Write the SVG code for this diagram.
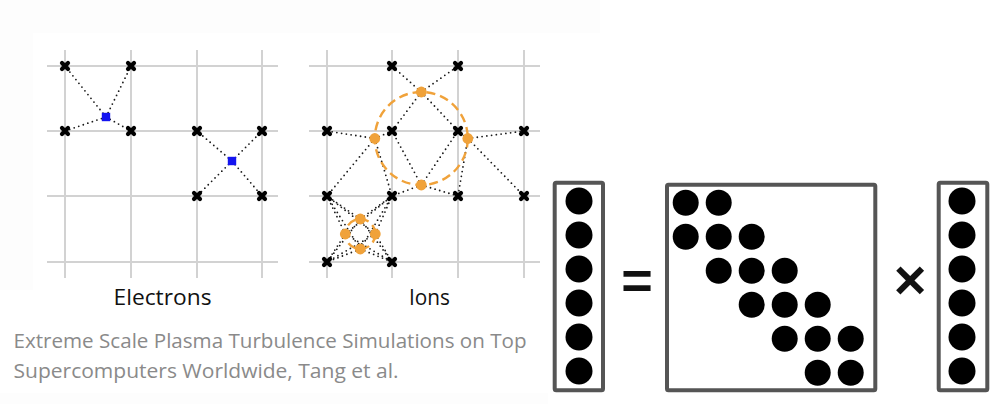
<svg xmlns="http://www.w3.org/2000/svg" width="999" height="404" viewBox="0 0 999 404">
  <style>
    .grid { stroke: #d2d2d2; stroke-width: 2; fill: none; }
    .dots { stroke: #1a1a1a; stroke-width: 1.8; stroke-dasharray: 0 4.8; stroke-linecap: round; fill: none; }
    .node { stroke: #000; stroke-width: 4.2; stroke-linecap: round; fill: none; }
    .elec { fill: #1414f0; }
    .ion { fill: #f0a23a; }
    .ring { fill: none; stroke: #f0a23a; stroke-width: 2.4; stroke-dasharray: 9 5; }
    .label { font-family: "Open Sans", "Liberation Sans", sans-serif; font-size: 22px; fill: #111; }
    .cite { font-family: "Open Sans", "Liberation Sans", sans-serif; font-size: 20px; fill: #8a8a8a; }
    .box { fill: #fff; stroke: #555; stroke-width: 4; }
    .dot { fill: #000; }
    .op { font-family: "Liberation Sans", "DejaVu Sans", sans-serif; font-weight: bold; fill: #111; }
  </style>
  <defs>
    <path id="x" class="node" d="M-3,-3 L3,3 M-3,3 L3,-3"/>
    <rect id="sq" class="elec" x="-4.2" y="-4.2" width="8.4" height="8.4"/>
    <circle id="io" class="ion" r="5.4"/>
  </defs>

  <!-- page background with a barely visible tint around the figure panel -->
  <rect width="999" height="404" fill="#ffffff"/>
  <path d="M0,0 H600 V33 H33 V290 H0 Z" fill="#fdfdfd"/>
  <rect x="0" y="393" width="548" height="11" fill="#fdfdfd"/>

  <!-- electron grid -->
  <g id="electron-grid" class="grid">
    <path d="M47,66 H278 M47,131 H278 M47,196 H278 M47,262 H278"/>
    <path d="M65,50 V278 M131,50 V278 M197,50 V278 M262,50 V278"/>
  </g>
  <!-- ion grid -->
  <g id="ion-grid" class="grid">
    <path d="M309,66 H540 M309,131 H540 M309,196 H540 M309,262 H540"/>
    <path d="M327,50 V278 M392,50 V278 M458,50 V278 M524,50 V278"/>
  </g>

  <!-- interpolation links from particles to grid points -->
  <g id="connectors" class="dots">
    <path d="M106,117 L65,66 M106,117 L131,66 M106,117 L65,131 M106,117 L131,131"/>
    <path d="M232,161 L197,131 M232,161 L262,131 M232,161 L197,196 M232,161 L262,196"/>
    <path d="M421.3,92 L392,66 M421.3,92 L458,66 M421.3,92 L392,131 M421.3,92 L458,131"/>
    <path d="M374.8,138.5 L327,131 M374.8,138.5 L392,131 M374.8,138.5 L327,196 M374.8,138.5 L392,196"/>
    <path d="M467.8,138.5 L458,131 M467.8,138.5 L524,131 M467.8,138.5 L458,196 M467.8,138.5 L524,196"/>
    <path d="M421.3,185 L392,131 M421.3,185 L458,131 M421.3,185 L392,196 M421.3,185 L458,196"/>
    <path d="M360.3,219 L327,196 M360.3,219 L392,196 M360.3,219 L327,262 M360.3,219 L392,262"/>
    <path d="M345.3,234 L327,196 M345.3,234 L392,196 M345.3,234 L327,262 M345.3,234 L392,262"/>
    <path d="M375.3,234 L327,196 M375.3,234 L392,196 M375.3,234 L327,262 M375.3,234 L392,262"/>
    <path d="M360.3,249 L327,196 M360.3,249 L392,196 M360.3,249 L327,262 M360.3,249 L392,262"/>
  </g>

  <!-- gyro-averaging rings -->
  <g id="rings">
    <circle class="ring" cx="421.3" cy="138.5" r="46.5"/>
    <circle class="ring" cx="360.3" cy="234" r="15" stroke-dasharray="7 4"/>
  </g>

  <!-- grid points -->
  <g id="electron-grid-points">
    <use href="#x" x="65" y="66"/><use href="#x" x="131" y="66"/>
    <use href="#x" x="65" y="131"/><use href="#x" x="131" y="131"/>
    <use href="#x" x="197" y="131"/><use href="#x" x="262" y="131"/>
    <use href="#x" x="197" y="196"/><use href="#x" x="262" y="196"/>
  </g>
  <g id="ion-grid-points">
    <use href="#x" x="392" y="66"/><use href="#x" x="458" y="66"/>
    <use href="#x" x="327" y="131"/><use href="#x" x="392" y="131"/>
    <use href="#x" x="458" y="131"/><use href="#x" x="524" y="131"/>
    <use href="#x" x="327" y="196"/><use href="#x" x="392" y="196"/>
    <use href="#x" x="458" y="196"/><use href="#x" x="524" y="196"/>
    <use href="#x" x="327" y="262"/><use href="#x" x="392" y="262"/>
  </g>

  <!-- particles -->
  <g id="electrons">
    <use href="#sq" x="106" y="117"/>
    <use href="#sq" x="232" y="161"/>
  </g>
  <g id="ions">
    <use href="#io" x="421.3" y="92"/>
    <use href="#io" x="374.8" y="138.5"/>
    <use href="#io" x="467.8" y="138.5"/>
    <use href="#io" x="421.3" y="185"/>
    <use href="#io" x="360.3" y="219"/>
    <use href="#io" x="345.3" y="234"/>
    <use href="#io" x="375.3" y="234"/>
    <use href="#io" x="360.3" y="249"/>
  </g>

  <g id="labels">
    <text class="label" x="113.5" y="305" textLength="98" lengthAdjust="spacingAndGlyphs">Electrons</text>
    <text class="label" x="409" y="305" textLength="41" lengthAdjust="spacingAndGlyphs">Ions</text>
  </g>

  <g id="citation">
    <text class="cite" x="13.5" y="347.7" textLength="513" lengthAdjust="spacingAndGlyphs">Extreme Scale Plasma Turbulence Simulations on Top</text>
    <text class="cite" x="13.5" y="378.3" textLength="385" lengthAdjust="spacingAndGlyphs">Supercomputers Worldwide, Tang et al.</text>
  </g>

  <!-- output vector -->
  <g id="vector-y">
    <rect class="box" x="554.7" y="182.7" width="48.3" height="207.6" rx="1.5"/>
    <circle class="dot" cx="579" cy="201" r="13.5"/>
    <circle class="dot" cx="579" cy="235" r="13.5"/>
    <circle class="dot" cx="579" cy="269" r="13.5"/>
    <circle class="dot" cx="579" cy="303" r="13.5"/>
    <circle class="dot" cx="579" cy="337" r="13.5"/>
    <circle class="dot" cx="579" cy="371" r="13.5"/>
  </g>

  <text id="equals" class="op" x="637" y="299" font-size="54" text-anchor="middle">=</text>

  <!-- banded matrix -->
  <g id="matrix">
    <rect class="box" x="667" y="184.7" width="208.3" height="205.6" rx="1.5"/>
    <g class="dot">
      <circle cx="685.7" cy="202.7" r="13"/><circle cx="718.7" cy="202.7" r="13"/>
      <circle cx="685.7" cy="236.7" r="13"/><circle cx="718.7" cy="236.7" r="13"/><circle cx="751.7" cy="236.7" r="13"/>
      <circle cx="718.7" cy="270.7" r="13"/><circle cx="751.7" cy="270.7" r="13"/><circle cx="784.7" cy="270.7" r="13"/>
      <circle cx="751.7" cy="304.7" r="13"/><circle cx="784.7" cy="304.7" r="13"/><circle cx="817.7" cy="304.7" r="13"/>
      <circle cx="784.7" cy="338.7" r="13"/><circle cx="817.7" cy="338.7" r="13"/><circle cx="850.7" cy="338.7" r="13"/>
      <circle cx="817.7" cy="372.7" r="13"/><circle cx="850.7" cy="372.7" r="13"/>
    </g>
  </g>

  <text id="times" class="op" x="910" y="299" font-size="56" text-anchor="middle">×</text>

  <!-- input vector -->
  <g id="vector-x">
    <rect class="box" x="938.7" y="182.7" width="48.6" height="207.6" rx="1.5"/>
    <circle class="dot" cx="962" cy="201" r="13.5"/>
    <circle class="dot" cx="962" cy="235" r="13.5"/>
    <circle class="dot" cx="962" cy="269" r="13.5"/>
    <circle class="dot" cx="962" cy="303" r="13.5"/>
    <circle class="dot" cx="962" cy="337" r="13.5"/>
    <circle class="dot" cx="962" cy="371" r="13.5"/>
  </g>
</svg>
